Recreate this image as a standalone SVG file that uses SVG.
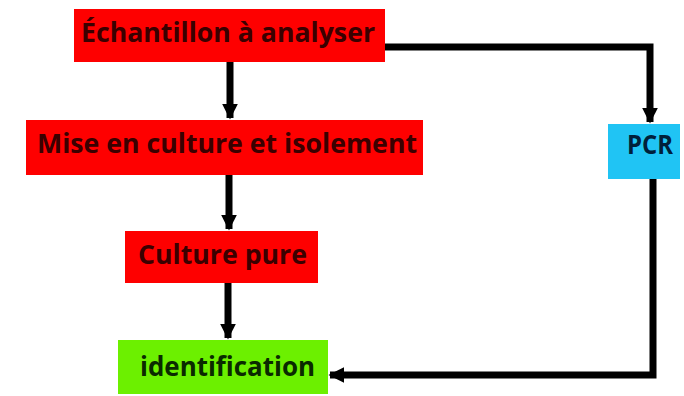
<svg xmlns="http://www.w3.org/2000/svg" width="684" height="396" viewBox="0 0 684 396">
<defs>
<style>
.lbl{font-family:"Open Sans","DejaVu Sans",sans-serif;font-weight:bold;font-size:26px;}
.red{fill:#fe0000;}
.conn{fill:none;stroke:#000;stroke-width:7;stroke-linejoin:miter;}
</style>
<marker id="ah" viewBox="0 0 10 10" refX="9" refY="5" markerWidth="2.3" markerHeight="2.3" orient="auto" markerUnits="strokeWidth">
<path d="M0,0 L10,5 L0,10 z" fill="#000"/>
</marker>
</defs>
<rect width="684" height="396" fill="#fff"/>
<g id="connectors">
<path class="conn" d="M230,62 V118" marker-end="url(#ah)"/>
<path class="conn" d="M229,175 V229" marker-end="url(#ah)"/>
<path class="conn" d="M228,283 V338" marker-end="url(#ah)"/>
<path class="conn" d="M385,47 H650 V122" marker-end="url(#ah)"/>
<path class="conn" d="M653,179 V375 H330" marker-end="url(#ah)"/>
</g>
<g id="n1">
<rect class="red" x="74" y="9" width="311" height="53"/>
<text class="lbl" x="81" y="42" fill="#3a0000" textLength="294" lengthAdjust="spacingAndGlyphs">Échantillon à analyser</text>
</g>
<g id="n2">
<rect class="red" x="26" y="120" width="397" height="55"/>
<text class="lbl" x="37" y="153" fill="#3a0000" textLength="380" lengthAdjust="spacingAndGlyphs">Mise en culture et isolement</text>
</g>
<g id="n3">
<rect class="red" x="125" y="231" width="193" height="52"/>
<text class="lbl" x="138" y="264" fill="#3a0000" textLength="169" lengthAdjust="spacingAndGlyphs">Culture pure</text>
</g>
<g id="n4">
<rect x="118" y="340" width="210" height="54" fill="#6cf000"/>
<text class="lbl" x="140" y="376" fill="#0a2a00" textLength="175" lengthAdjust="spacingAndGlyphs">identification</text>
</g>
<g id="n5">
<rect x="608" y="124" width="72" height="55" fill="#20c4f4"/>
<text class="lbl" x="627" y="154" fill="#00203a" font-size="22" textLength="46" lengthAdjust="spacingAndGlyphs">PCR</text>
</g>
</svg>
